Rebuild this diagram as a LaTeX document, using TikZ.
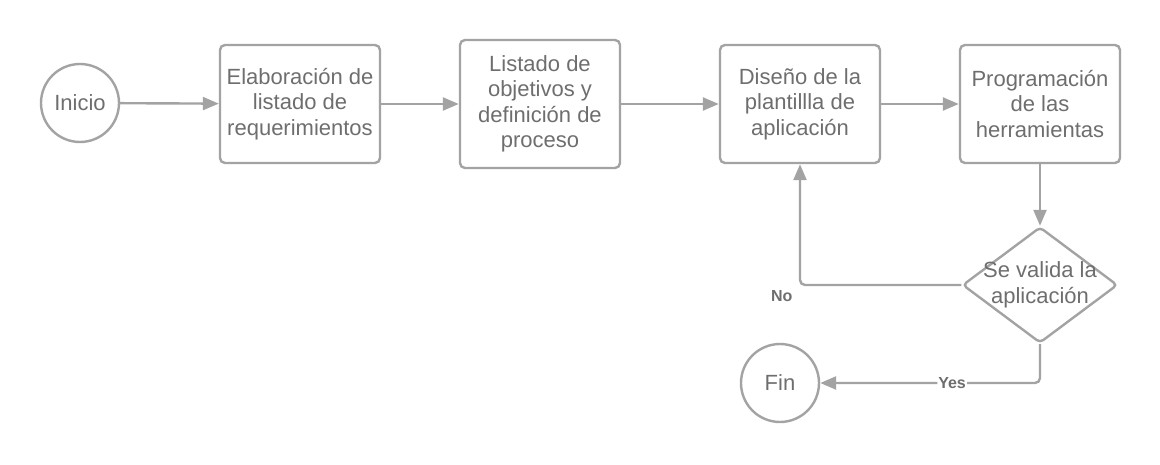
\documentclass[tikz,border=0pt]{standalone}
\usepackage{fontspec}
\setmainfont{Liberation Sans}
\usetikzlibrary{shapes.geometric,arrows.meta,positioning,calc}
\definecolor{linegray}{HTML}{A3A3A3}
\definecolor{textgray}{HTML}{6E6E6E}
\tikzset{
  stepbox/.style={draw=linegray, line width=2.4pt, rounded corners=5pt, minimum width=160pt,
    align=center, text=textgray, font=\fontsize{22}{25.5}\selectfont},
  endpoint/.style={draw=linegray, line width=2.4pt, circle, minimum size=78pt, inner sep=0pt,
    text=textgray, font=\fontsize{22}{25.5}\selectfont},
  flow/.style={draw=linegray, line width=2.4pt, -{Triangle[length=16pt,width=13pt]}},
  answer/.style={text=textgray, font=\bfseries\fontsize{16}{18}\selectfont}
}
\begin{document}
\begin{tikzpicture}[x=1pt, y=-1pt]
  \useasboundingbox (0,0) rectangle (1160,465);
  \node[endpoint] (inicio) at (80,103) {Inicio};
  \node[stepbox, minimum height=118pt] (req) at (300,104) {Elaboración de\\listado de\\requerimientos};
  \node[stepbox, minimum height=128pt] (obj) at (540,104) {Listado de\\objetivos y\\definición de\\proceso};
  \node[stepbox, minimum height=118pt] (dis) at (800,104) {Diseño de la\\plantillla de\\aplicación};
  \node[stepbox, minimum height=118pt] (prog) at (1040,104) {Programación\\de las\\herramientas};
  \node[diamond, draw=linegray, line width=2.4pt, rounded corners=4pt, inner sep=0pt,
    minimum width=155pt, minimum height=116pt,
    label={[align=center, text=textgray, font=\fontsize{22}{25.5}\selectfont]center:Se valida la\\aplicación}] (valida) at (1040,285) {};
  \node[endpoint] (fin) at (780,383) {Fin};

  \draw[flow] (inicio) -- (req);
  \draw[flow] (req) -- (obj);
  \draw[flow] (obj) -- (dis);
  \draw[flow] (dis) -- (prog);
  \draw[flow] (prog) -- (valida);
  \draw[flow, rounded corners=5pt] (valida.west) -| node[answer, pos=0.5, below left=1pt and 3pt] (no) {No} (dis.south);
  \draw[flow, rounded corners=5pt] (valida.south) |- node[answer, pos=0.7, fill=white, inner sep=1pt] (yes) {Yes} (fin.east);
\end{tikzpicture}
\end{document}
